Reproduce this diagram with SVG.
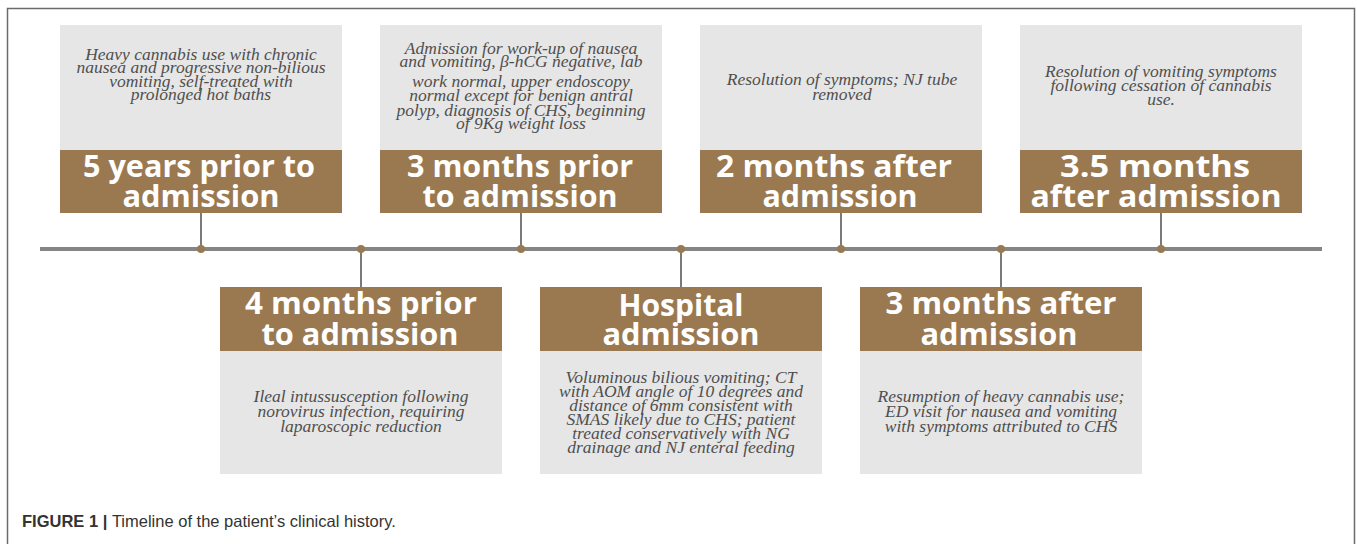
<svg xmlns="http://www.w3.org/2000/svg" width="1357" height="544" viewBox="0 0 1357 544">
<style>
.bg{fill:#ffffff}
.frame{fill:none;stroke:#6b6b6b;stroke-width:1.5}
.gray{fill:#e6e6e6}
.brown{fill:#9a7951}
.hd{font-family:"Open Sans","DejaVu Sans",sans-serif;font-weight:700;font-size:31px;fill:#ffffff;text-anchor:middle}
.tx{font-family:"Liberation Serif","Times New Roman",serif;font-style:italic;font-size:17.5px;fill:#4f4f4f;text-anchor:middle}
.axis{stroke:#858585;stroke-width:4}
.stem{stroke:#7a7a7a;stroke-width:2}
.dot{fill:#9a7951}
.cap{font-family:"Liberation Sans",Arial,sans-serif;font-size:16.5px;fill:#333333}
</style>
<rect class="bg" x="0" y="0" width="1357" height="544"/>
<path class="frame" d="M7.5,544 V8.5 H1354.5 V544"/>

<g id="connectors">
<line class="axis" x1="40" y1="249" x2="1322" y2="249"/>
<line class="stem" x1="201" y1="213" x2="201" y2="249"/>
<line class="stem" x1="521" y1="213" x2="521" y2="249"/>
<line class="stem" x1="841" y1="213" x2="841" y2="249"/>
<line class="stem" x1="1161" y1="213" x2="1161" y2="249"/>
<line class="stem" x1="361" y1="249" x2="361" y2="287"/>
<line class="stem" x1="681" y1="249" x2="681" y2="287"/>
<line class="stem" x1="1001" y1="249" x2="1001" y2="287"/>
<circle class="dot" cx="201" cy="249" r="4"/>
<circle class="dot" cx="361" cy="249" r="4"/>
<circle class="dot" cx="521" cy="249" r="4"/>
<circle class="dot" cx="681" cy="249" r="4"/>
<circle class="dot" cx="841" cy="249" r="4"/>
<circle class="dot" cx="1001" cy="249" r="4"/>
<circle class="dot" cx="1161" cy="249" r="4"/>
</g>

<g id="node-5years">
<rect class="gray" x="60" y="25" width="282" height="125"/>
<rect class="brown" x="60" y="150" width="282" height="63"/>
<text class="tx" x="201" y="60">Heavy cannabis use with chronic</text>
<text class="tx" x="201" y="73">nausea and progressive non-bilious</text>
<text class="tx" x="201" y="87">vomiting, self-treated with</text>
<text class="tx" x="201" y="100">prolonged hot baths</text>
<text class="hd" x="199" y="177" textLength="232" lengthAdjust="spacingAndGlyphs">5 years prior to</text>
<text class="hd" x="201" y="207" textLength="157" lengthAdjust="spacingAndGlyphs">admission</text>
</g>

<g id="node-3months-prior">
<rect class="gray" x="380" y="25" width="282" height="125"/>
<rect class="brown" x="380" y="150" width="282" height="63"/>
<text class="tx" x="521" y="54">Admission for work-up of nausea</text>
<text class="tx" x="521" y="67">and vomiting, β-hCG negative, lab</text>
<text class="tx" x="521" y="87">work normal, upper endoscopy</text>
<text class="tx" x="521" y="101">normal except for benign antral</text>
<text class="tx" x="521" y="116">polyp, diagnosis of CHS, beginning</text>
<text class="tx" x="521" y="129">of 9Kg weight loss</text>
<text class="hd" x="520" y="177" textLength="226" lengthAdjust="spacingAndGlyphs">3 months prior</text>
<text class="hd" x="520" y="207" textLength="195" lengthAdjust="spacingAndGlyphs">to admission</text>
</g>

<g id="node-2months-after">
<rect class="gray" x="700" y="25" width="282" height="125"/>
<rect class="brown" x="700" y="150" width="282" height="63"/>
<text class="tx" x="842" y="85">Resolution of symptoms; NJ tube</text>
<text class="tx" x="842" y="100">removed</text>
<text class="hd" x="834" y="177" textLength="236" lengthAdjust="spacingAndGlyphs">2 months after</text>
<text class="hd" x="840" y="207" textLength="155" lengthAdjust="spacingAndGlyphs">admission</text>
</g>

<g id="node-3.5months-after">
<rect class="gray" x="1020" y="25" width="282" height="125"/>
<rect class="brown" x="1020" y="150" width="282" height="63"/>
<text class="tx" x="1161" y="77">Resolution of vomiting symptoms</text>
<text class="tx" x="1161" y="91">following cessation of cannabis</text>
<text class="tx" x="1161" y="105">use.</text>
<text class="hd" x="1155" y="177" textLength="190" lengthAdjust="spacingAndGlyphs">3.5 months</text>
<text class="hd" x="1156" y="207" textLength="251" lengthAdjust="spacingAndGlyphs">after admission</text>
</g>

<g id="node-4months-prior">
<rect class="brown" x="220" y="287" width="282" height="64"/>
<rect class="gray" x="220" y="351" width="282" height="123"/>
<text class="hd" x="361" y="314" textLength="232" lengthAdjust="spacingAndGlyphs">4 months prior</text>
<text class="hd" x="360" y="345" textLength="197" lengthAdjust="spacingAndGlyphs">to admission</text>
<text class="tx" x="361" y="402">Ileal intussusception following</text>
<text class="tx" x="361" y="417">norovirus infection, requiring</text>
<text class="tx" x="361" y="432">laparoscopic reduction</text>
</g>

<g id="node-hospital-admission">
<rect class="brown" x="540" y="287" width="282" height="64"/>
<rect class="gray" x="540" y="351" width="282" height="123"/>
<text class="hd" x="681" y="316" textLength="125" lengthAdjust="spacingAndGlyphs">Hospital</text>
<text class="hd" x="681" y="345" textLength="157" lengthAdjust="spacingAndGlyphs">admission</text>
<text class="tx" x="681" y="383">Voluminous bilious vomiting; CT</text>
<text class="tx" x="681" y="397">with AOM angle of 10 degrees and</text>
<text class="tx" x="681" y="411">distance of 6mm consistent with</text>
<text class="tx" x="681" y="425">SMAS likely due to CHS; patient</text>
<text class="tx" x="681" y="439">treated conservatively with NG</text>
<text class="tx" x="681" y="453">drainage and NJ enteral feeding</text>
</g>

<g id="node-3months-after">
<rect class="brown" x="860" y="287" width="282" height="64"/>
<rect class="gray" x="860" y="351" width="282" height="123"/>
<text class="hd" x="1001" y="314" textLength="231" lengthAdjust="spacingAndGlyphs">3 months after</text>
<text class="hd" x="999" y="345" textLength="157" lengthAdjust="spacingAndGlyphs">admission</text>
<text class="tx" x="1001" y="402">Resumption of heavy cannabis use;</text>
<text class="tx" x="1001" y="417">ED visit for nausea and vomiting</text>
<text class="tx" x="1001" y="432">with symptoms attributed to CHS</text>
</g>

<text class="cap" x="22" y="527"><tspan font-weight="700">FIGURE 1 | </tspan>Timeline of the patient’s clinical history.</text>
</svg>
